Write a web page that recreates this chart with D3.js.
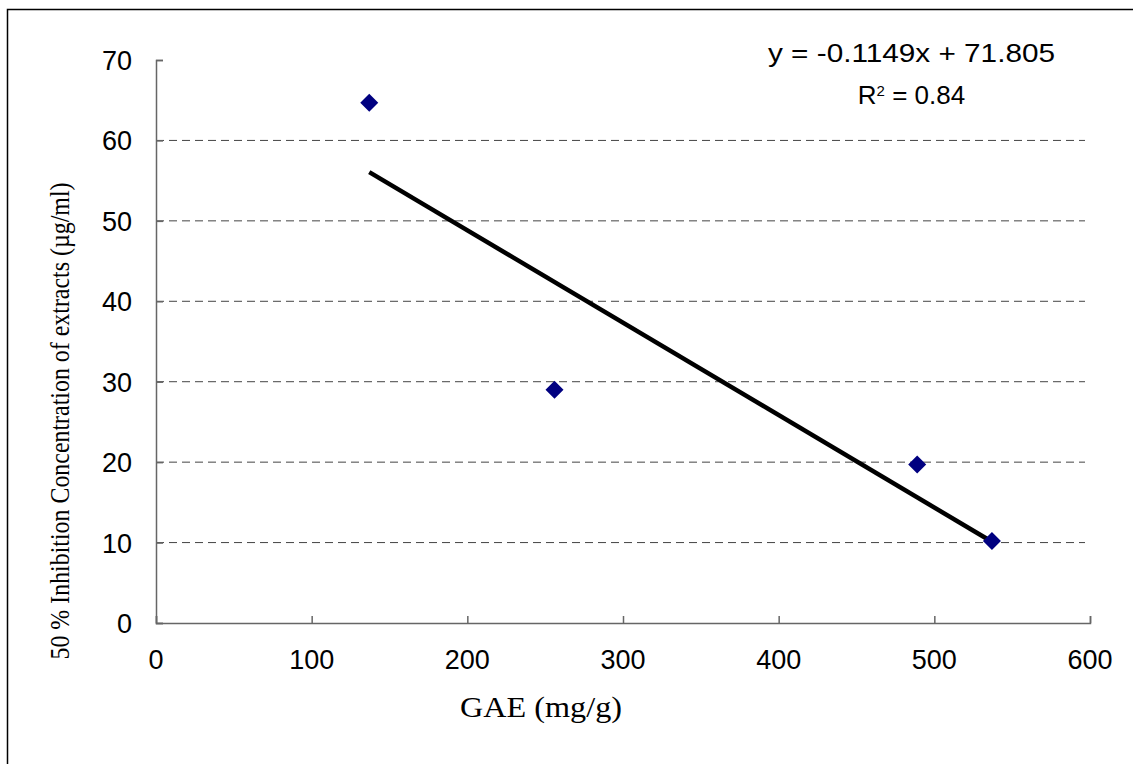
<!DOCTYPE html>
<html><head><meta charset="utf-8">
<script src="https://cdn.jsdelivr.net/npm/d3@7"></script>
<style>body{margin:0;background:#fff}svg{display:block}</style>
</head><body>
<script>
const gae = [137, 256, 489, 537];
const ic50 = [64.7, 29.0, 19.7, 10.2];
const xTicks = [0, 100, 200, 300, 400, 500, 600];
const yTicks = [0, 10, 20, 30, 40, 50, 60, 70];
const slope = -0.1149, intercept = 71.805;
const eqText = "y = -0.1149x + 71.805";
const r2Text = "0.84";

const W = 1133, H = 764;
const sans = "Liberation Sans, Arial, sans-serif";
const serif = "Liberation Serif, Times New Roman, serif";
const svg = d3.select("body").append("svg").attr("width", W).attr("height", H);
svg.append("rect").attr("x", 7.5).attr("y", 9.5).attr("width", W + 10).attr("height", H + 10)
  .attr("fill", "none").attr("stroke", "#000").attr("stroke-width", 1.5);

const x = d3.scaleLinear().domain([0, 600]).range([156, 1090]);
const y = d3.scaleLinear().domain([0, 70]).range([623, 60]);

// gridlines
svg.append("g").selectAll("line").data(yTicks.filter(d => d > 0 && d < 70)).join("line")
  .attr("x1", x(0)).attr("x2", 1085).attr("y1", d => y(d)).attr("y2", d => y(d))
  .attr("stroke", "#444").attr("stroke-width", 1).attr("stroke-dasharray", "8,5");

const xAxis = svg.append("g").attr("transform", `translate(0,${y(0)})`)
  .call(d3.axisTop(x).tickValues(xTicks).tickSize(7).tickFormat(""));
const yAxis = svg.append("g").attr("transform", `translate(${x(0)},0)`)
  .call(d3.axisRight(y).tickValues(yTicks).tickSize(7).tickFormat(""));
[xAxis, yAxis].forEach(a => {
  a.selectAll("path,line").attr("stroke", "#666").attr("stroke-width", 1.5);
});

svg.append("g").selectAll("text").data(xTicks).join("text")
  .attr("x", d => x(d)).attr("y", 669).attr("text-anchor", "middle")
  .attr("font-family", sans).attr("font-size", 27)
  .text(d => d);
svg.append("g").selectAll("text").data(yTicks).join("text")
  .attr("x", 132).attr("y", d => y(d) + 10).attr("text-anchor", "end")
  .attr("font-family", sans).attr("font-size", 27)
  .text(d => d);

// trend line
const xs = d3.extent(gae);
svg.append("line")
  .attr("x1", x(xs[0])).attr("y1", y(slope * xs[0] + intercept))
  .attr("x2", x(xs[1])).attr("y2", y(slope * xs[1] + intercept))
  .attr("stroke", "#000").attr("stroke-width", 4.5);

// points
const pts = gae.map((g, i) => [g, ic50[i]]);
svg.append("g").selectAll("path").data(pts).join("path")
  .attr("transform", d => `translate(${x(d[0])},${y(d[1])})`)
  .attr("d", "M0,-9L9,0L0,9L-9,0Z").attr("fill", "#000080");

// equation
const eq = svg.append("g").attr("font-family", sans).attr("font-size", 26).attr("text-anchor", "middle");
eq.append("text").attr("x", 911.5).attr("y", 62).attr("textLength", 287)
  .attr("lengthAdjust", "spacingAndGlyphs").text(eqText);
const r2 = eq.append("text").attr("x", 911.5).attr("y", 104);
r2.append("tspan").text("R");
r2.append("tspan").attr("font-size", 15).attr("dy", -8).text("2");
r2.append("tspan").attr("dy", 8).text(" = " + r2Text);

// axis titles
svg.append("text").attr("x", 541).attr("y", 717).attr("text-anchor", "middle")
  .attr("font-family", serif).attr("font-size", 30).attr("textLength", 162)
  .attr("lengthAdjust", "spacingAndGlyphs")
  .text("GAE (mg/g)");
svg.append("text").attr("transform", "translate(69,421) rotate(-90)").attr("text-anchor", "middle")
  .attr("font-family", serif).attr("font-size", 28).attr("textLength", 477)
  .attr("lengthAdjust", "spacingAndGlyphs")
  .text("50 % Inhibition Concentration of extracts (µg/ml)");
</script>
</body></html>
